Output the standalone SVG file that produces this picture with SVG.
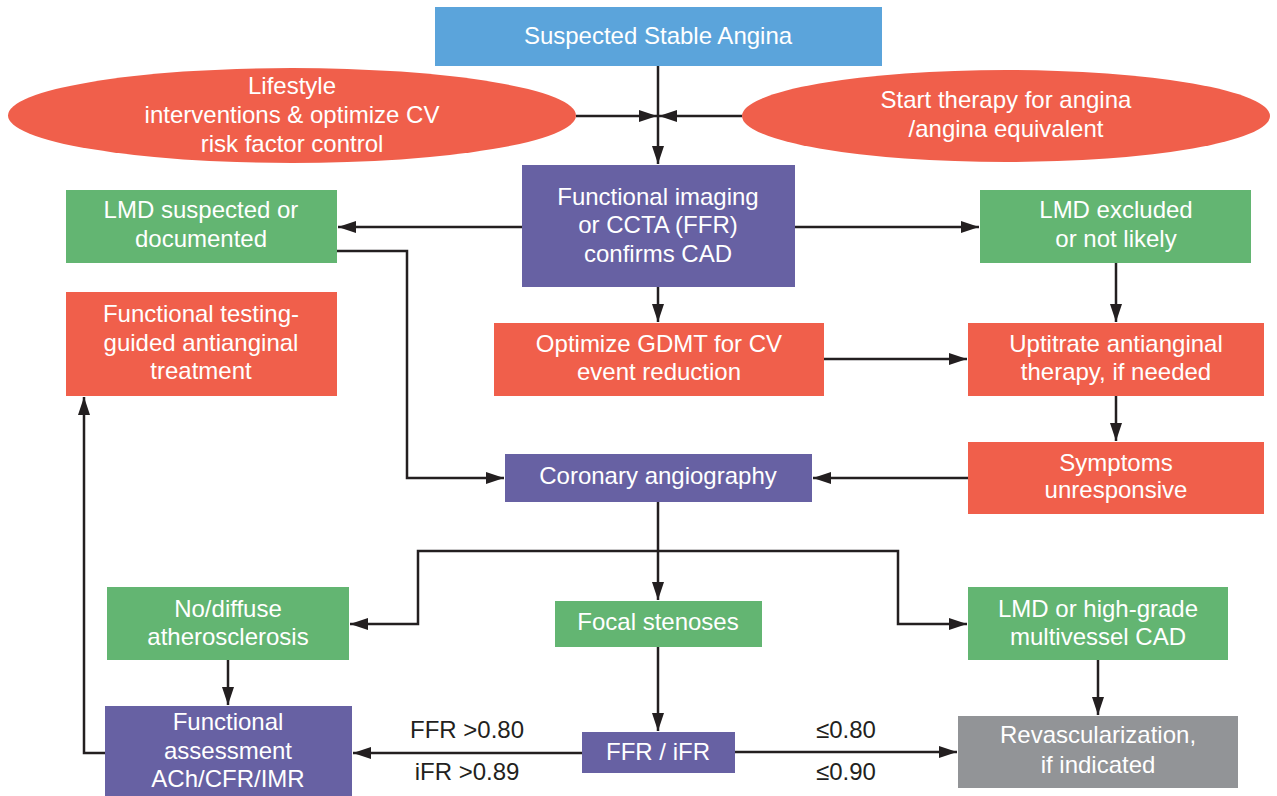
<svg xmlns="http://www.w3.org/2000/svg" width="1277" height="796" viewBox="0 0 1277 796">
<style>
.t{font-family:"Liberation Sans",Arial,sans-serif;font-size:24px;fill:#fff;text-anchor:middle}
.e{font-family:"Liberation Sans",Arial,sans-serif;font-size:24px;fill:#231F20;text-anchor:middle}
.blue{fill:#5BA4DB}
.red{fill:#F05F4B}
.green{fill:#63B572}
.purple{fill:#6761A3}
.gray{fill:#929497}
.c{fill:none;stroke:#231F20;stroke-width:2.5}
</style>
<defs>
<marker id="ah" viewBox="0 0 18 12" refX="18" refY="6" markerWidth="18" markerHeight="12" markerUnits="userSpaceOnUse" orient="auto"><path d="M0,0 L18,6 L0,12 z" fill="#231F20"/></marker>
</defs>
<rect width="1277" height="796" fill="#fff"/>
<g id="connectors">
<path class="c" d="M658,66 V164" marker-end="url(#ah)"/>
<path class="c" d="M576,116 H657" marker-end="url(#ah)"/>
<path class="c" d="M742,116 H659" marker-end="url(#ah)"/>
<path class="c" d="M522,227 H338" marker-end="url(#ah)"/>
<path class="c" d="M795,227 H979" marker-end="url(#ah)"/>
<path class="c" d="M337,251 H407 V478 H504" marker-end="url(#ah)"/>
<path class="c" d="M658,287 V322" marker-end="url(#ah)"/>
<path class="c" d="M1116,263 V322" marker-end="url(#ah)"/>
<path class="c" d="M824,359 H967" marker-end="url(#ah)"/>
<path class="c" d="M1116,396 V441" marker-end="url(#ah)"/>
<path class="c" d="M968,478 H813" marker-end="url(#ah)"/>
<path class="c" d="M658,502 V600" marker-end="url(#ah)"/>
<path class="c" d="M658,551 H418 V624 H350" marker-end="url(#ah)"/>
<path class="c" d="M658,551 H898 V624 H967" marker-end="url(#ah)"/>
<path class="c" d="M228,660 V705" marker-end="url(#ah)"/>
<path class="c" d="M658,647 V731" marker-end="url(#ah)"/>
<path class="c" d="M1098,660 V715" marker-end="url(#ah)"/>
<path class="c" d="M582,753 H353" marker-end="url(#ah)"/>
<path class="c" d="M735,752 H957" marker-end="url(#ah)"/>
<path class="c" d="M105,753 H84 V397" marker-end="url(#ah)"/>
<text class="e" x="467" y="738">FFR &gt;0.80</text>
<text class="e" x="467" y="780">iFR &gt;0.89</text>
<text class="e" x="846" y="738">≤0.80</text>
<text class="e" x="846" y="780">≤0.90</text>
</g>
<g id="suspected">
<rect class="blue" x="435" y="7" width="447" height="59"/>
<text class="t" x="658" y="44">Suspected Stable Angina</text>
</g>
<g id="lifestyle">
<ellipse class="red" cx="292" cy="115.5" rx="284" ry="47.5"/>
<text class="t" x="292" y="94">Lifestyle</text>
<text class="t" x="292" y="123">interventions &amp; optimize CV</text>
<text class="t" x="292" y="152">risk factor control</text>
</g>
<g id="start-therapy">
<ellipse class="red" cx="1006" cy="116" rx="264" ry="46"/>
<text class="t" x="1006" y="108">Start therapy for angina</text>
<text class="t" x="1006" y="137">/angina equivalent</text>
</g>
<g id="functional-imaging">
<rect class="purple" x="522" y="165" width="273" height="122"/>
<text class="t" x="658" y="205">Functional imaging</text>
<text class="t" x="658" y="233">or CCTA (FFR)</text>
<text class="t" x="658" y="262">confirms CAD</text>
</g>
<g id="lmd-suspected">
<rect class="green" x="66" y="190" width="271" height="73"/>
<text class="t" x="201" y="218">LMD suspected or</text>
<text class="t" x="201" y="247">documented</text>
</g>
<g id="lmd-excluded">
<rect class="green" x="980" y="190" width="271" height="73"/>
<text class="t" x="1116" y="218">LMD excluded</text>
<text class="t" x="1116" y="247">or not likely</text>
</g>
<g id="functional-testing">
<rect class="red" x="66" y="292" width="271" height="104"/>
<text class="t" x="201" y="322">Functional testing-</text>
<text class="t" x="201" y="351">guided antianginal</text>
<text class="t" x="201" y="379">treatment</text>
</g>
<g id="optimize-gdmt">
<rect class="red" x="494" y="323" width="330" height="73"/>
<text class="t" x="659" y="352">Optimize GDMT for CV</text>
<text class="t" x="659" y="380">event reduction</text>
</g>
<g id="uptitrate">
<rect class="red" x="968" y="323" width="296" height="73"/>
<text class="t" x="1116" y="352">Uptitrate antianginal</text>
<text class="t" x="1116" y="380">therapy, if needed</text>
</g>
<g id="symptoms">
<rect class="red" x="968" y="442" width="296" height="72"/>
<text class="t" x="1116" y="471">Symptoms</text>
<text class="t" x="1116" y="498">unresponsive</text>
</g>
<g id="coronary-angiography">
<rect class="purple" x="505" y="454" width="307" height="48"/>
<text class="t" x="658" y="484">Coronary angiography</text>
</g>
<g id="no-diffuse">
<rect class="green" x="107" y="587" width="242" height="73"/>
<text class="t" x="228" y="617">No/diffuse</text>
<text class="t" x="228" y="645">atherosclerosis</text>
</g>
<g id="focal-stenoses">
<rect class="green" x="555" y="601" width="207" height="46"/>
<text class="t" x="658" y="630">Focal stenoses</text>
</g>
<g id="lmd-high-grade">
<rect class="green" x="968" y="587" width="260" height="73"/>
<text class="t" x="1098" y="617">LMD or high-grade</text>
<text class="t" x="1098" y="645">multivessel CAD</text>
</g>
<g id="functional-assessment">
<rect class="purple" x="105" y="706" width="247" height="92"/>
<text class="t" x="228" y="730">Functional</text>
<text class="t" x="228" y="759">assessment</text>
<text class="t" x="228" y="787">ACh/CFR/IMR</text>
</g>
<g id="ffr-ifr">
<rect class="purple" x="582" y="732" width="153" height="41"/>
<text class="t" x="658" y="760">FFR / iFR</text>
</g>
<g id="revascularization">
<rect class="gray" x="958" y="716" width="280" height="72"/>
<text class="t" x="1098" y="743">Revascularization,</text>
<text class="t" x="1098" y="773">if indicated</text>
</g>
</svg>
